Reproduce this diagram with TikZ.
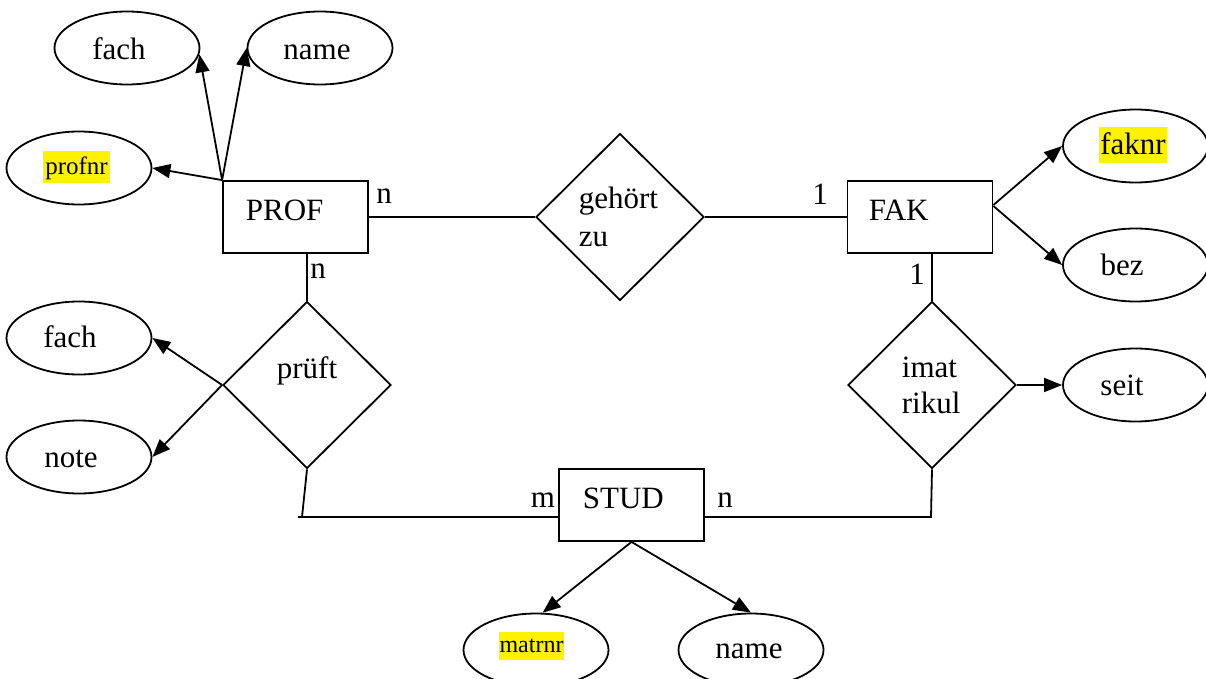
\documentclass[tikz,border=0pt]{standalone}
\usepackage{fontspec}
\setmainfont{Liberation Serif}
\usetikzlibrary{shapes.geometric,arrows.meta,calc}
\begin{document}
\begin{tikzpicture}[x=1pt,y=-1pt,line width=1.8pt,
  every node/.style={font=\fontsize{31}{36}\selectfont},
  ent/.style={draw,rectangle,minimum width=145pt,minimum height=72pt,inner sep=0pt},
  rel/.style={draw,diamond,minimum width=168pt,minimum height=167pt,inner sep=0pt},
  attr/.style={draw,ellipse,minimum width=145pt,minimum height=73pt,inner sep=0pt},
  lbl/.style={inner sep=0pt},
  hl/.style={fill=yellow,inner ysep=0.5pt},
  arr/.style={-{Triangle[length=18pt,width=14pt]}}]
\useasboundingbox (0,0) rectangle (1206,679);

% entities
\node[ent] (prof) at (295.5,217) {};
\node[lbl,anchor=west] (proft) at (245,210) {PROF};
\node[ent] (fak) at (920,217) {};
\node[lbl,anchor=west] (fakt) at (868,210) {FAK};
\node[ent] (stud) at (631.5,505) {};
\node[lbl,anchor=west] (studt) at (582,498) {STUD};

% relationships
\node[rel] (geh) at (620,217) {};
\node[lbl,anchor=base west] (geht1) at (578,208) {gehört};
\node[lbl,anchor=base west] (geht2) at (578,246) {zu};
\node[rel] (pruef) at (307,385) {};
\node[lbl,anchor=base] (prueft) at (307,378) {prüft};
\node[rel] (imat) at (932,385) {};
\node[lbl,anchor=base west] (imatt1) at (901,377) {imat};
\node[lbl,anchor=base west] (imatt2) at (901,413) {rikul};

% attributes
\node[attr] (fach1) at (127,48) {};
\node[lbl,anchor=base] (fach1t) at (119,60) {fach};
\node[attr] (name1) at (320,48) {};
\node[lbl,anchor=base] (name1t) at (317,60) {name};
\node[attr] (profnr) at (79,168) {};
\node[hl,inner xsep=2pt,text height=23pt,text depth=7pt,
      font=\fontsize{25}{30}\selectfont] (profnrt) at (76.5,167) {profnr};
\node[attr] (fach2) at (79,338) {};
\node[lbl,anchor=base] (fach2t) at (70,347) {fach};
\node[attr] (note) at (79,457) {};
\node[lbl,anchor=base] (notet) at (71,467) {note};
\node[attr] (faknr) at (1135.5,146) {};
\node[hl,inner xsep=1.3pt,text height=27pt,text depth=8pt] (faknrt) at (1133,145) {faknr};
\node[attr] (bez) at (1135.5,265) {};
\node[lbl,anchor=base] (bezt) at (1122,275) {bez};
\node[attr] (seit) at (1135.5,385) {};
\node[lbl,anchor=base] (seitt) at (1122,395) {seit};
\node[attr] (matrnr) at (536,650) {};
\node[hl,inner xsep=0.5pt,text height=20pt,text depth=7pt,
      font=\fontsize{24}{29}\selectfont] (matrnrt) at (531.5,646) {matrnr};
\node[attr] (name2) at (751,650) {};
\node[lbl,anchor=base] (name2t) at (749,658) {name};

% cardinalities
\node[lbl] (c_pg) at (384,196) {n};
\node[lbl] (c_pp) at (318,271) {n};
\node[lbl] (c_fg) at (820,194) {1};
\node[lbl] (c_fi) at (917,274) {1};
\node[lbl] (c_sp) at (543,500) {m};
\node[lbl] (c_si) at (725,500) {n};

% corners
\coordinate (k1) at (302,517);
\coordinate (k1s) at (298,517);
\coordinate (k2) at (931,517);

% connectors
\draw (prof.east) -- (geh.west);
\draw (geh.east) -- (fak.west);
\draw (prof.south -| pruef.north) -- (pruef.north);
\draw (pruef.south) -- (k1);
\draw (k1s) -- (stud.west |- k1s);
\draw (fak.south -| imat.north) -- (imat.north);
\draw (imat.south) -- (k2) -- (stud.east |- k2);

% attribute arrows
\draw[arr] (prof.north west) -- (fach1.355);
\draw[arr] (prof.north west) -- (name1.west);
\draw[arr] (prof.north west) -- (profnr.east);
\draw[arr] (pruef.west) -- (fach2.east);
\draw[arr] (pruef.west) -- (note.east);
\draw[arr] ($(fak.east)+(0,-12)$) -- (faknr.west);
\draw[arr] ($(fak.east)+(0,-11)$) -- (bez.west);
\draw[arr] (imat.east) -- (seit.west);
\draw[arr] (stud.south) -- (matrnr.80);
\draw[arr] (stud.south) -- (name2.north);
\end{tikzpicture}
\end{document}
